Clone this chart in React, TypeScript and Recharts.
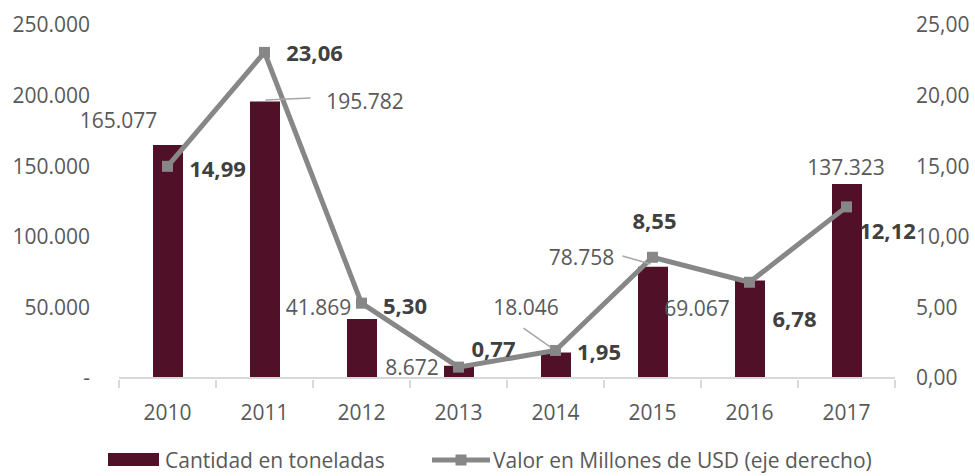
import React from 'react';
import { ComposedChart, Bar, Line, XAxis, YAxis, LabelList, Legend } from 'recharts';

const years = ['2010', '2011', '2012', '2013', '2014', '2015', '2016', '2017'];
const tonnes = [165077, 195782, 41869, 8672, 18046, 78758, 69067, 137323];
const valueMusd = [14.99, 23.06, 5.3, 0.77, 1.95, 8.55, 6.78, 12.12];
const leftTicks = [0, 50000, 100000, 150000, 200000, 250000];
const rightTicks = [0, 5, 10, 15, 20, 25];
const barName = 'Cantidad en toneladas';
const lineName = 'Valor en Millones de USD (eje derecho)';

const data = years.map((y, i) => ({ year: y, tonnes: tonnes[i], value: valueMusd[i] }));

// label placement offsets (relative to bar top / line point)
const barLabelOffsets = [
  [-49.5, -25], [100, -1], [-43.5, -12], [-47, 1], [-30, -46], [-71.5, -10], [-53, 28], [-1, -17.5],
];
const lineLabelOffsets = [
  [50, 2], [50, 0], [43.5, 2], [35, -19], [43.5, 1], [2, -37], [45, 36], [41, 23],
];
const leaderLines: Record<number, number[]> = {
  1: [0.5, -1.6, 45.5, -3.6],
  4: [-32.5, -24.5, -5.5, -5.5],
  5: [-30.5, -10.8, -2.5, -2.8],
};

const FONT = '"Open Sans", sans-serif';
const BAR_COLOR = '#501027';
const LINE_COLOR = '#878787';
const TEXT_COLOR = '#595959';

const fmtTonnes = (v: number) => (v === 0 ? '-' : String(v).replace(/\B(?=(\d{3})+(?!\d))/g, '.'));
const fmtValue = (v: number) => v.toFixed(2).replace('.', ',');

const BarLabel = (props: any) => {
  const { x, y, width, value, index } = props;
  const cx = Number(x) + Number(width) / 2;
  const top = Number(y);
  const [dx, dy] = barLabelOffsets[index] || [0, -15];
  const ll = leaderLines[index];
  return (
    <g>
      {ll && (
        <line x1={cx + ll[0]} y1={top + ll[1]} x2={cx + ll[2]} y2={top + ll[3]} stroke="#a6a6a6" strokeWidth={1.5} />
      )}
      <text x={cx + dx} y={top + dy} textAnchor="middle" dominantBaseline="central" fill={TEXT_COLOR}
        fontSize={21} fontFamily={FONT}>
        {fmtTonnes(Number(value))}
      </text>
    </g>
  );
};

const LineLabel = (props: any) => {
  const { x, y, value, index } = props;
  const [dx, dy] = lineLabelOffsets[index] || [0, -15];
  return (
    <text x={Number(x) + dx} y={Number(y) + dy} textAnchor="middle" dominantBaseline="central" fill="#404040"
      fontSize={22} fontWeight="bold" fontFamily={FONT}>
      {fmtValue(Number(value))}
    </text>
  );
};

const SquareDot = (props: any) => {
  const { cx, cy, index } = props;
  if (cx == null || cy == null) return <g key={`d${index}`} />;
  return <rect key={`d${index}`} x={cx - 5.5} y={cy - 5.5} width={11} height={11} fill={LINE_COLOR} />;
};

const XTick = (props: any) => {
  const { x, y, payload, index, visibleTicksCount, width } = props;
  const count = visibleTicksCount || years.length;
  const band = width ? width / count : 97;
  return (
    <g>
      <line x1={x - band / 2} y1={y} x2={x - band / 2} y2={y + 8} stroke="#d9d9d9" strokeWidth={2} />
      {index === count - 1 && (
        <line x1={x + band / 2} y1={y} x2={x + band / 2} y2={y + 8} stroke="#d9d9d9" strokeWidth={2} />
      )}
      <text x={x} y={y + 32} textAnchor="middle" dominantBaseline="central" fill={TEXT_COLOR} fontSize={21}
        fontFamily={FONT}>
        {payload.value}
      </text>
    </g>
  );
};

const CustomLegend = () => (
  <div style={{ position: 'relative', width: 975, height: 28, fontFamily: FONT }}>
    <svg width={975} height={28} style={{ position: 'absolute', left: 0, top: 0 }}>
      <rect x={108} y={7} width={51} height={13} fill={BAR_COLOR} />
      <text x={165} y={14} dominantBaseline="central" fill={TEXT_COLOR} fontSize={21} fontFamily={FONT}>
        {barName}
      </text>
      <line x1={432} y1={14} x2={490} y2={14} stroke={LINE_COLOR} strokeWidth={5} />
      <rect x={455.5} y={8.5} width={11} height={11} fill={LINE_COLOR} />
      <text x={493} y={14} dominantBaseline="central" fill={TEXT_COLOR} fontSize={21} fontFamily={FONT}>
        {lineName}
      </text>
    </svg>
  </div>
);

export default function App() {
  return (
    <div style={{ position: 'absolute', left: 0, top: 0, width: 975, height: 476, background: '#fff' }}>
      <ComposedChart width={975} height={476} data={data} margin={{ top: 25, right: 0, bottom: 2, left: 0 }}>
        <XAxis dataKey="year" height={68} tick={<XTick />} tickLine={false} tickSize={0}
          axisLine={{ stroke: '#d9d9d9', strokeWidth: 2 }} interval={0} />
        <YAxis yAxisId="left" width={119} domain={[0, 250000]} ticks={leftTicks} tickFormatter={fmtTonnes}
          axisLine={false} tickLine={false} tickSize={0} tickMargin={29}
          tick={{ fill: TEXT_COLOR, fontSize: 21, fontFamily: FONT }} />
        <YAxis yAxisId="right" orientation="right" width={80} domain={[0, 25]} ticks={rightTicks}
          tickFormatter={fmtValue} axisLine={false} tickLine={false} tickSize={0} tickMargin={21}
          tick={{ fill: TEXT_COLOR, fontSize: 21, fontFamily: FONT }} />
        <Legend verticalAlign="bottom" content={<CustomLegend />} wrapperStyle={{ left: 0, width: 975 }} />
        <Bar yAxisId="left" dataKey="tonnes" name={barName} fill={BAR_COLOR} barSize={30} isAnimationActive={false}>
          <LabelList dataKey="tonnes" content={<BarLabel />} />
        </Bar>
        <Line yAxisId="right" dataKey="value" name={lineName} stroke={LINE_COLOR} strokeWidth={5}
          dot={<SquareDot />} activeDot={false} isAnimationActive={false}>
          <LabelList dataKey="value" content={<LineLabel />} />
        </Line>
      </ComposedChart>
    </div>
  );
}
